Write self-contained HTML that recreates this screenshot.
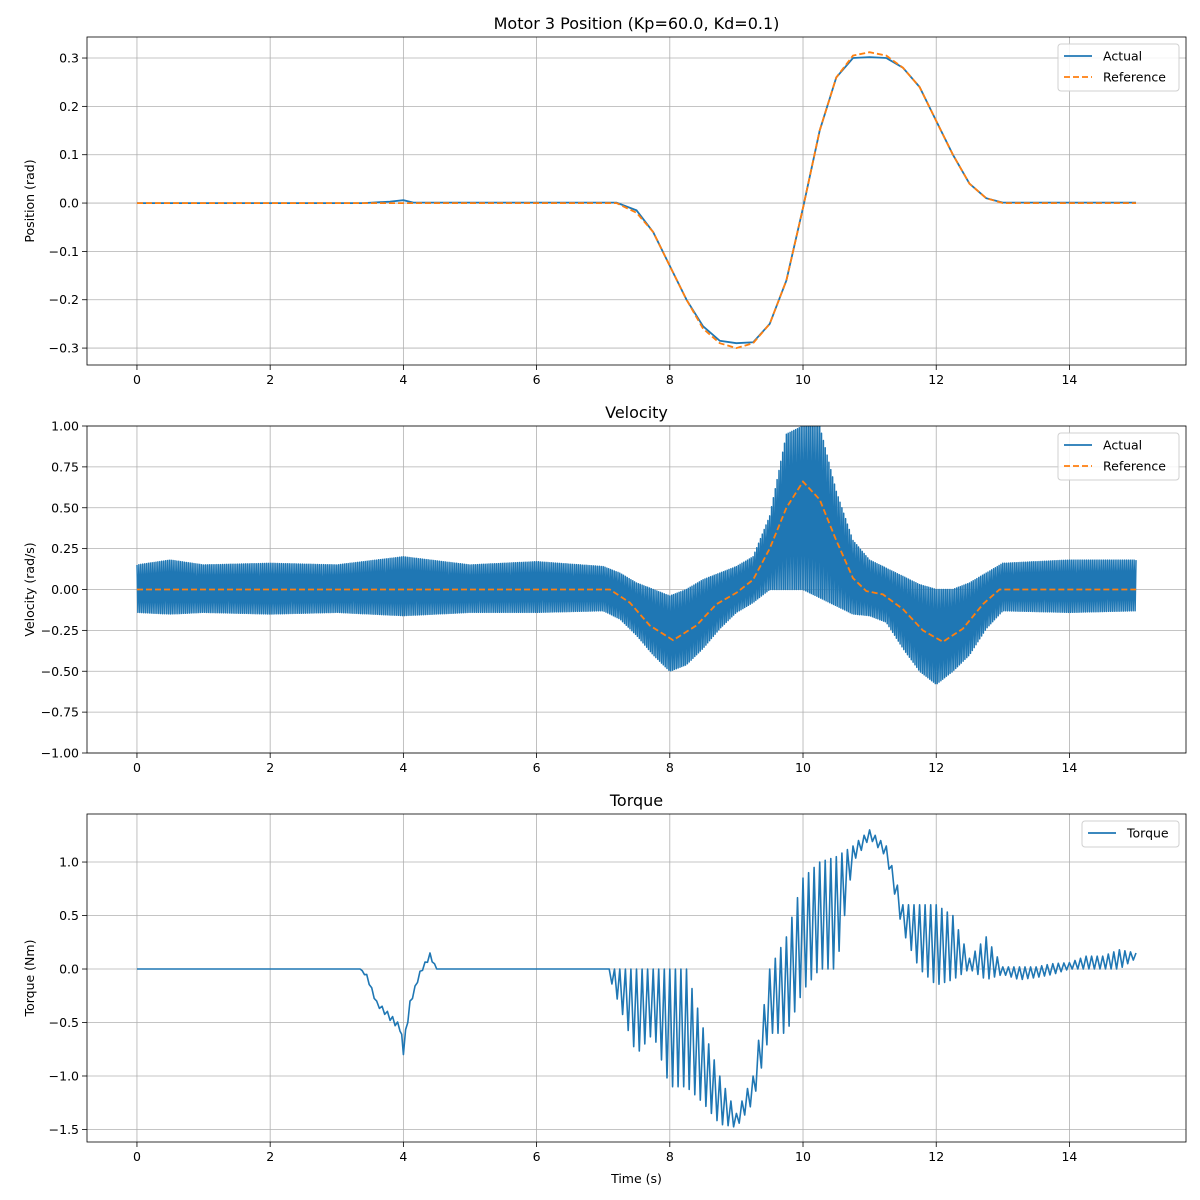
<!DOCTYPE html>
<html><head><meta charset="utf-8"><style>
html,body{margin:0;padding:0;background:#fff}
svg{display:block;font-family:"DejaVu Sans","Liberation Sans",sans-serif}
</style></head><body>
<svg id="fig" width="1200" height="1200" viewBox="0 0 1200 1200" xmlns="http://www.w3.org/2000/svg"></svg>
<script>
// ---- data ----
const xTicks = [0, 2, 4, 6, 8, 10, 12, 14];
const posTicks = [-0.3, -0.2, -0.1, 0.0, 0.1, 0.2, 0.3];
const velTicks = [-1.0, -0.75, -0.5, -0.25, 0.0, 0.25, 0.5, 0.75, 1.0];
const torTicks = [-1.5, -1.0, -0.5, 0.0, 0.5, 1.0];

const posT   = [0, 3.4, 3.8, 4.0, 4.15, 7.2, 7.5, 7.75, 8.0, 8.25, 8.5, 8.75, 9.0, 9.25, 9.5, 9.75, 10.0, 10.25, 10.5, 10.75, 11.0, 11.25, 11.5, 11.75, 12.0, 12.25, 12.5, 12.75, 13.0, 15.0];
const posRef = [0, 0, 0, 0, 0, 0, -0.02, -0.06, -0.13, -0.2, -0.26, -0.29, -0.30, -0.29, -0.25, -0.16, -0.01, 0.15, 0.26, 0.305, 0.312, 0.305, 0.28, 0.24, 0.17, 0.10, 0.04, 0.01, 0, 0];
const posAct = [0, 0, 0.003, 0.006, 0.001, 0.001, -0.015, -0.06, -0.13, -0.2, -0.255, -0.285, -0.29, -0.288, -0.25, -0.16, -0.01, 0.15, 0.26, 0.30, 0.302, 0.30, 0.28, 0.24, 0.17, 0.10, 0.04, 0.01, 0.001, 0.001];

const velT   = [0, 0.5, 1, 2, 3, 4, 5, 6, 7, 7.25, 7.5, 7.75, 8.0, 8.25, 8.5, 8.75, 9.0, 9.25, 9.5, 9.75, 10.0, 10.25, 10.5, 10.75, 11.0, 11.25, 11.5, 11.75, 12.0, 12.25, 12.5, 12.75, 13.0, 14.0, 15.0];
const velHi  = [0.15, 0.18, 0.15, 0.16, 0.15, 0.2, 0.15, 0.17, 0.14, 0.1, 0.04, 0.0, -0.04, 0.0, 0.06, 0.1, 0.14, 0.2, 0.45, 0.95, 1.0, 1.0, 0.6, 0.3, 0.18, 0.13, 0.08, 0.03, 0.0, 0.0, 0.04, 0.1, 0.16, 0.18, 0.18];
const velLo  = [-0.14, -0.15, -0.14, -0.15, -0.14, -0.16, -0.14, -0.14, -0.13, -0.18, -0.28, -0.4, -0.5, -0.46, -0.36, -0.24, -0.14, -0.08, 0.0, 0.0, 0.0, -0.05, -0.1, -0.15, -0.16, -0.2, -0.36, -0.5, -0.58, -0.5, -0.4, -0.24, -0.13, -0.14, -0.13];
const velRefT = [0, 7.1, 7.4, 7.7, 8.05, 8.4, 8.7, 9.0, 9.25, 9.5, 9.75, 10.0, 10.25, 10.5, 10.75, 10.95, 11.2, 11.5, 11.8, 12.1, 12.4, 12.7, 12.95, 15.0];
const velRef = [0, 0, -0.08, -0.22, -0.31, -0.22, -0.09, -0.02, 0.06, 0.25, 0.5, 0.66, 0.55, 0.3, 0.07, -0.01, -0.03, -0.12, -0.25, -0.32, -0.24, -0.09, 0, 0];

const torT  = [0, 3.35, 3.45, 3.6, 3.8, 3.95, 4.0, 4.1, 4.25, 4.4, 4.5, 7.05, 7.25, 7.5, 7.75, 8.0, 8.25, 8.5, 8.75, 9.0, 9.25, 9.5, 9.75, 10.0, 10.25, 10.5, 10.75, 11.0, 11.25, 11.5, 11.75, 12.0, 12.25, 12.5, 12.75, 13.0, 13.25, 13.5, 13.75, 14.0, 14.25, 14.5, 14.75, 15.0];
const torHi = [0, 0, -0.05, -0.3, -0.42, -0.52, -0.7, -0.3, -0.02, 0.15, 0.0, 0.0, 0.0, 0.0, 0.0, 0.0, 0.0, -0.55, -1.0, -1.35, -1.0, 0.0, 0.3, 0.85, 1.0, 1.05, 1.15, 1.3, 1.15, 0.6, 0.6, 0.6, 0.5, 0.1, 0.3, 0.02, 0.02, 0.02, 0.05, 0.06, 0.12, 0.12, 0.18, 0.15];
const torLo = [0, 0, -0.08, -0.34, -0.48, -0.58, -0.8, -0.35, -0.05, 0.1, 0.0, 0.0, -0.35, -0.8, -0.6, -1.1, -1.1, -1.25, -1.45, -1.48, -1.25, -0.6, -0.6, -0.2, 0.0, 0.0, 1.0, 1.22, 1.05, 0.35, 0.0, -0.15, -0.1, 0.0, -0.1, -0.05, -0.1, -0.08, -0.05, 0.0, 0.0, 0.0, 0.0, 0.1];

// ---- drawing ----
const NS = "http://www.w3.org/2000/svg";
const svg = document.getElementById('fig');
const BLUE = "#1f77b4", ORANGE = "#ff7f0e";
const L = 87, R = 1186;
const X0 = -0.75, X1 = 15.75;
function sx(t){ return L + (t - X0) / (X1 - X0) * (R - L); }
function mk(tag, attrs, parent){
  const e = document.createElementNS(NS, tag);
  for (const k in attrs) e.setAttribute(k, attrs[k]);
  (parent || svg).appendChild(e);
  return e;
}
function txt(x, y, s, size, anchor, parent, extra){
  const e = mk('text', Object.assign({x:x, y:y, 'font-size':size, 'text-anchor':anchor||'middle', fill:'#000'}, extra||{}), parent);
  e.textContent = s;
  return e;
}
function fmt(v, d){ return (v < 0 ? '\u2212' : '') + Math.abs(v).toFixed(d); }

function panel(name, top, bot, y0, y1, ticks, dec, title, ylabel, showXLabel){
  const g = mk('g', {});
  
  
  const sy = v => bot - (v - y0) / (y1 - y0) * (bot - top);
  const grid = mk('g', {}, g);
  
  
  xTicks.forEach(t => {
    mk('line', {x1:sx(t), x2:sx(t), y1:top, y2:bot, stroke:'#b0b0b0', 'stroke-width':0.8}, grid);
    mk('line', {x1:sx(t), x2:sx(t), y1:bot, y2:bot+5, stroke:'#000', 'stroke-width':0.8}, g);
    const lb = txt(sx(t), bot + 19, String(t), 12.5, 'middle', g);
    
    
  });
  ticks.forEach(v => {
    const y = sy(v);
    mk('line', {x1:L, x2:R, y1:y, y2:y, stroke:'#b0b0b0', 'stroke-width':0.8}, grid);
    mk('line', {x1:L-5, x2:L, y1:y, y2:y, stroke:'#000', 'stroke-width':0.8}, g);
    const lb = txt(L - 8, y + 4.5, fmt(v, dec), 12.5, 'end', g);
    
    
  });
  const tt = txt((L+R)/2, top - 8, title, 16, 'middle', g);
  
  
  const yl = txt(0, 0, ylabel, 12.5, 'middle', g, {transform:'translate(34,' + (top+bot)/2 + ') rotate(-90)'});
  
  
  if (showXLabel){
    const xl = txt((L+R)/2, bot + 41, 'Time (s)', 12.5, 'middle', g);
    
    
  }
  const clipId = name + '-clip';
  const cp = mk('clipPath', {id: clipId}, g);
  mk('rect', {x:L, y:top, width:R-L, height:bot-top}, cp);
  const plot = mk('g', {'clip-path':'url(#' + clipId + ')'}, g);
  return {g, plot, sy, top, bot};
}
function linePath(ts, vs, sy){
  return ts.map((t,i) => (i ? 'L' : 'M') + sx(t).toFixed(1) + ',' + sy(vs[i]).toFixed(1)).join('');
}
// oscillating trace alternating between the hi and lo envelopes
function zigzagPath(ts, hi, lo, sy, rate){
  let d = 'M' + sx(ts[0]).toFixed(1) + ',' + sy(hi[0]).toFixed(1);
  let k = 0;
  for (let i = 0; i < ts.length - 1; i++){
    const n = Math.max(1, Math.ceil((ts[i+1] - ts[i]) * rate));
    for (let j = 1; j <= n; j++){
      const f = j / n;
      const t = ts[i] + (ts[i+1] - ts[i]) * f;
      const h = hi[i] + (hi[i+1] - hi[i]) * f;
      const l = lo[i] + (lo[i+1] - lo[i]) * f;
      k++;
      d += 'L' + sx(t).toFixed(1) + ',' + sy(k % 2 ? l : h).toFixed(1);
    }
  }
  return d;
}
function frame(p){
  mk('rect', {x:L, y:p.top, width:R-L, height:p.bot-p.top, fill:'none', stroke:'#000', 'stroke-width':0.8}, p.g);
}
function legend(p, x, y, w, entries){
  const lg = mk('g', {}, p.g);
  
  
  mk('rect', {x:x, y:y, width:w, height:entries.length*21+5, rx:3, fill:'#fff', 'fill-opacity':0.85, stroke:'#d0d0d0'}, lg);
  entries.forEach((e,i) => {
    const cy = y + 12 + i*21;
    const ln = mk('line', {x1:x+6, x2:x+34, y1:cy, y2:cy, stroke:e.c, 'stroke-width':1.8, 'stroke-dasharray':e.dash||'none'}, lg);
    
    
    txt(x+45, cy+4.5, e.n, 12.5, 'start', lg);
  });
}

// Panel 1: position
const p1 = panel('position-panel', 37, 365, -0.335, 0.3435, posTicks, 1, 'Motor 3 Position (Kp=60.0, Kd=0.1)', 'Position (rad)', false);
const a1 = mk('path', {d:linePath(posT, posAct, p1.sy), fill:'none', stroke:BLUE, 'stroke-width':1.8}, p1.plot);


const r1 = mk('path', {d:linePath(posT, posRef, p1.sy), fill:'none', stroke:ORANGE, 'stroke-width':1.8, 'stroke-dasharray':'6,3'}, p1.plot);


frame(p1);
legend(p1, 1058, 44, 121, [{n:'Actual', c:BLUE}, {n:'Reference', c:ORANGE, dash:'6,3'}]);

// Panel 2: velocity
const p2 = panel('velocity-panel', 426, 753, -1, 1, velTicks, 2, 'Velocity', 'Velocity (rad/s)', false);
const a2 = mk('path', {d:zigzagPath(velT, velHi, velLo, p2.sy, 70), fill:'none', stroke:BLUE, 'stroke-width':1.5, 'stroke-linejoin':'round'}, p2.plot);


const r2 = mk('path', {d:linePath(velRefT, velRef, p2.sy), fill:'none', stroke:ORANGE, 'stroke-width':1.8, 'stroke-dasharray':'6,3'}, p2.plot);


frame(p2);
legend(p2, 1058, 433, 121, [{n:'Actual', c:BLUE}, {n:'Reference', c:ORANGE, dash:'6,3'}]);

// Panel 3: torque
const p3 = panel('torque-panel', 814, 1142, -1.617, 1.449, torTicks, 1, 'Torque', 'Torque (Nm)', true);
const a3 = mk('path', {d:zigzagPath(torT, torHi, torLo, p3.sy, 24), fill:'none', stroke:BLUE, 'stroke-width':1.6, 'stroke-linejoin':'round'}, p3.plot);


frame(p3);
legend(p3, 1082, 821, 97, [{n:'Torque', c:BLUE}]);
</script>
</body></html>
